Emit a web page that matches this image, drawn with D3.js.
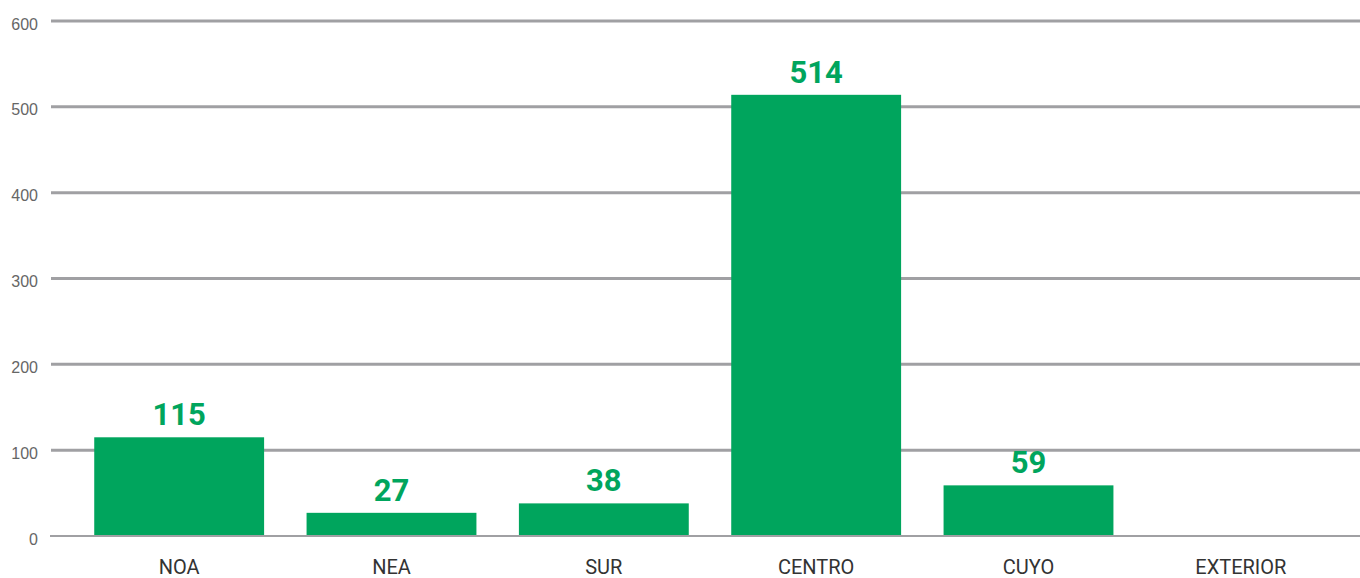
<!DOCTYPE html>
<html><head><meta charset="utf-8">
<script src="https://cdn.jsdelivr.net/npm/d3@7"></script>
<style>body{margin:0;background:#fff;}svg{display:block;}</style>
</head><body>
<svg id="c" width="1360" height="578"></svg>
<script>
const categories = ["NOA","NEA","SUR","CENTRO","CUYO","EXTERIOR"];
const values = [115, 27, 38, 514, 59, null];
const yTicks = [0,100,200,300,400,500,600];

const svg = d3.select("#c");
const x = d3.scaleBand().domain(categories).range([73,1347]).paddingInner(0.2).paddingOuter(0.1);
const y = d3.scaleLinear().domain([0,600]).range([536,21]);

// gridlines
svg.append("g").selectAll("line").data(yTicks.filter(d=>d>0)).join("line")
  .attr("x1",51).attr("x2",1360).attr("y1",d=>y(d)).attr("y2",d=>y(d))
  .attr("stroke","#a0a0a3").attr("stroke-width",3);

// y labels
svg.append("g").selectAll("text").data(yTicks).join("text")
  .attr("x",38).attr("y",d=>y(d)+8.5).attr("text-anchor","end")
  .attr("font-family","Liberation Sans, Arial, sans-serif").attr("font-size",16)
  .attr("fill","#666").text(d=>d);

// bars
const data = categories.map((c,i)=>({c,v:values[i]})).filter(d=>d.v!=null);
svg.append("g").selectAll("rect").data(data).join("rect")
  .attr("x",d=>x(d.c)).attr("width",x.bandwidth())
  .attr("y",d=>y(d.v)).attr("height",d=>y(0)-y(d.v))
  .attr("fill","#00a55d");

// baseline
svg.append("line").attr("x1",50).attr("x2",1360).attr("y1",y(0)).attr("y2",y(0))
  .attr("stroke","#a0a0a3").attr("stroke-width",2);

// value labels
svg.append("g").selectAll("text").data(data).join("text")
  .attr("x",d=>x(d.c)+x.bandwidth()/2).attr("y",d=>y(d.v)-12)
  .attr("text-anchor","middle").attr("font-family","Roboto, sans-serif")
  .attr("font-weight","bold").attr("font-size",31).attr("fill","#00a55d")
  .text(d=>d.v);

// x labels
svg.append("g").selectAll("text").data(categories).join("text")
  .attr("x",d=>x(d)+x.bandwidth()/2).attr("y",574)
  .attr("text-anchor","middle").attr("font-family","Roboto, sans-serif")
  .attr("font-size",20).attr("fill","#333").text(d=>d);
</script>
</body></html>
